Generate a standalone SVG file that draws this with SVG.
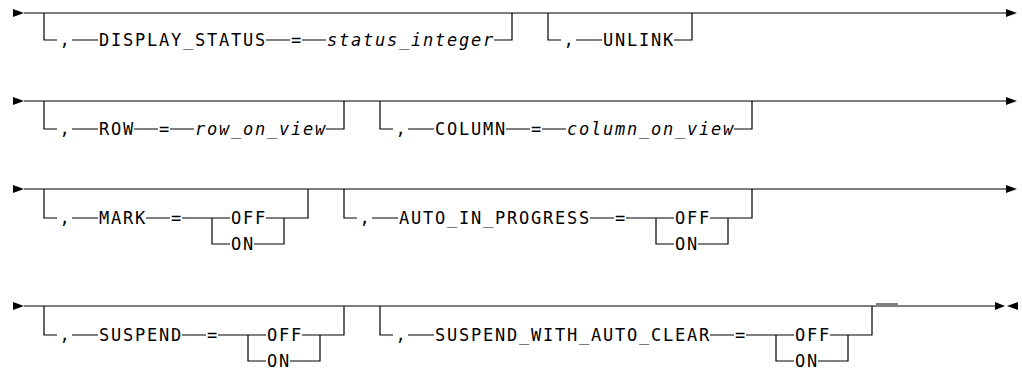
<svg xmlns="http://www.w3.org/2000/svg" width="1022" height="375" viewBox="0 0 1022 375">
<style>
.l{fill:none;stroke:#000;stroke-width:1.2}
.a{fill:#000}
text{font-family:"DejaVu Sans Mono","Liberation Mono",monospace;font-size:17px;letter-spacing:1.77px;fill:#000}
.i{font-style:italic}
</style>
<rect width="1022" height="375" fill="#fff"/>
<g id="connectors">
<path class="l" d="M24,13 H1006 M24,101 H1006 M24,189 H1006 M24,306 H995 M876,304 H898"/>
<polygon class="a" points="13,9 24,13 13,17"/>
<polygon class="a" points="1006,9 1017,13 1006,17"/>
<polygon class="a" points="13,97 24,101 13,105"/>
<polygon class="a" points="1006,97 1017,101 1006,105"/>
<polygon class="a" points="13,185 24,189 13,193"/>
<polygon class="a" points="1006,185 1017,189 1006,193"/>
<polygon class="a" points="13,302 24,306 13,310"/>
<polygon class="a" points="995,302 1005,306 995,310"/>
<polygon class="a" points="1018,302 1007,306 1018,310"/>
</g>
<g id="display_status">
<path class="l" d="M44,13 V40 H57 M72,40 H98 M266,40 H290 M302,40 H326 M494,40 H512 V13"/>
<text x="59.4" y="46.2">,</text>
<text x="98.9" y="46.2">DISPLAY_STATUS</text>
<text x="290.9" y="46.2">=</text>
<text class="i" x="326.9" y="46.2">status_integer</text>
</g>
<g id="unlink">
<path class="l" d="M548,13 V40 H561 M576,40 H602 M674,40 H692 V13"/>
<text x="563.4" y="46.2">,</text>
<text x="602.9" y="46.2">UNLINK</text>
</g>
<g id="row">
<path class="l" d="M44,101 V129 H57 M72,129 H98 M134,129 H158 M170,129 H194 M326,129 H344 V101"/>
<text x="59.4" y="135.2">,</text>
<text x="98.9" y="135.2">ROW</text>
<text x="158.9" y="135.2">=</text>
<text class="i" x="194.9" y="135.2">row_on_view</text>
</g>
<g id="column">
<path class="l" d="M380,101 V129 H393 M408,129 H434 M506,129 H530 M542,129 H566 M734,129 H752 V101"/>
<text x="395.4" y="135.2">,</text>
<text x="434.9" y="135.2">COLUMN</text>
<text x="530.9" y="135.2">=</text>
<text class="i" x="566.9" y="135.2">column_on_view</text>
</g>
<g id="mark">
<path class="l" d="M44,189 V218 H57 M72,218 H98 M146,218 H170 M182,218 H230 M266,218 H308 V189 M212,218 V244 H230 M254,244 H284 V218"/>
<text x="59.4" y="224.2">,</text>
<text x="98.9" y="224.2">MARK</text>
<text x="170.9" y="224.2">=</text>
<text x="230.9" y="224.2">OFF</text>
<text x="230.9" y="250.2">ON</text>
</g>
<g id="auto_in_progress">
<path class="l" d="M344,189 V218 H357 M372,218 H398 M590,218 H614 M626,218 H674 M710,218 H752 V189 M656,218 V244 H674 M698,244 H728 V218"/>
<text x="359.4" y="224.2">,</text>
<text x="398.9" y="224.2">AUTO_IN_PROGRESS</text>
<text x="614.9" y="224.2">=</text>
<text x="674.9" y="224.2">OFF</text>
<text x="674.9" y="250.2">ON</text>
</g>
<g id="suspend">
<path class="l" d="M44,306 V335 H57 M72,335 H98 M182,335 H206 M218,335 H266 M302,335 H344 V306 M248,335 V361 H266 M290,361 H320 V335"/>
<text x="59.4" y="341.2">,</text>
<text x="98.9" y="341.2">SUSPEND</text>
<text x="206.9" y="341.2">=</text>
<text x="266.9" y="341.2">OFF</text>
<text x="266.9" y="367.2">ON</text>
</g>
<g id="suspend_with_auto_clear">
<path class="l" d="M380,306 V335 H393 M408,335 H434 M710,335 H734 M746,335 H794 M830,335 H872 V306 M776,335 V361 H794 M818,361 H848 V335"/>
<text x="395.4" y="341.2">,</text>
<text x="434.9" y="341.2">SUSPEND_WITH_AUTO_CLEAR</text>
<text x="734.9" y="341.2">=</text>
<text x="794.9" y="341.2">OFF</text>
<text x="794.9" y="367.2">ON</text>
</g>
</svg>
